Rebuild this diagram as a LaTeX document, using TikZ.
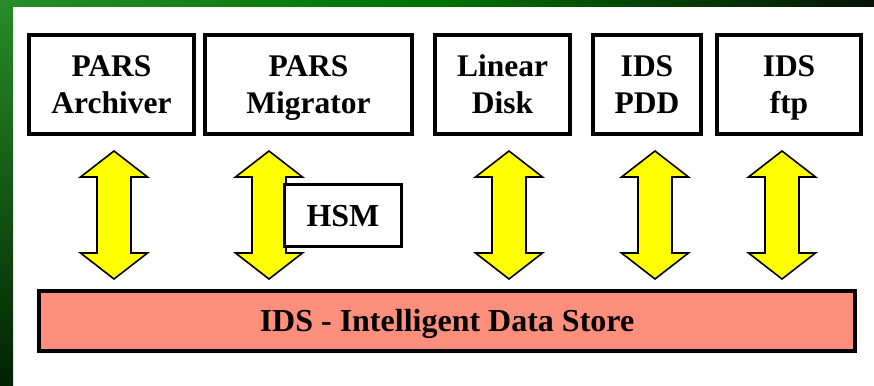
\documentclass[tikz,border=0pt]{standalone}
\usepackage{fontspec}
\setmainfont{Liberation Serif}
\definecolor{salmonfill}{RGB}{255,143,125}
\definecolor{arrowyellow}{RGB}{255,255,0}
\definecolor{gtop}{RGB}{40,140,40}
\definecolor{gbot}{RGB}{0,35,0}
\definecolor{gdark}{RGB}{8,18,8}
\newcommand{\lowline}[1]{\smash{#1}}
\newcommand{\dblarrow}[1]{%
  \draw[dbl] (#1,151) -- ++(33.5,26) -- ++(-16.5,0) -- ++(0,76) -- ++(16.5,0)
    -- (#1,279) -- ++(-33.5,-26) -- ++(16.5,0) -- ++(0,-76) -- ++(-16.5,0) -- cycle;}
\begin{document}
\begin{tikzpicture}[x=1pt,y=-1pt,
  box/.style={draw=black, line width=4pt, fill=white, inner sep=0pt, align=center,
    minimum height=99pt, font=\fontsize{31.5}{37}\selectfont\bfseries},
  dbl/.style={draw=black, line width=1.6pt, fill=arrowyellow, line join=miter},
  single/.style={inner sep=0pt, text height=21pt, text depth=0pt,
    font=\fontsize{32}{37}\selectfont\bfseries}]
\useasboundingbox (0,0) rectangle (874,385);
% background
\fill[white] (0,0) rectangle (874,385);
\shade[top color=gtop, bottom color=gbot] (0,0) rectangle (13,385);
\shade[left color=gtop, right color=gdark, middle color=green!45!black] (0,0) rectangle (874,7);
% top boxes
\node[box, minimum width=165pt] (arch) at (111.5,84.5) {PARS\\\lowline{Archiver}};
\node[box, minimum width=207pt] (migr) at (308.5,84.5) {PARS\\\lowline{Migrator}};
\node[box, minimum width=135pt] (disk) at (502.5,84.5) {Linear\\\lowline{Disk}};
\node[box, minimum width=108pt] (pdd)  at (647,84.5)   {IDS\\\lowline{PDD}};
\node[box, minimum width=144pt] (ftp)  at (789,84.5)   {IDS\\\lowline{ftp}};
% bottom bar
\node[single, draw=black, line width=4pt, fill=salmonfill, minimum width=816pt, minimum height=60pt]
  (ids) at (447,321) {IDS - Intelligent Data Store};
% arrows
\dblarrow{114}
\dblarrow{269}
\dblarrow{509}
\dblarrow{655}
\dblarrow{782}
% HSM box
\node[single, draw=black, line width=3pt, fill=white, minimum width=117pt, minimum height=62pt]
  (hsm) at (343,215.5) {HSM};
\end{tikzpicture}
\end{document}
